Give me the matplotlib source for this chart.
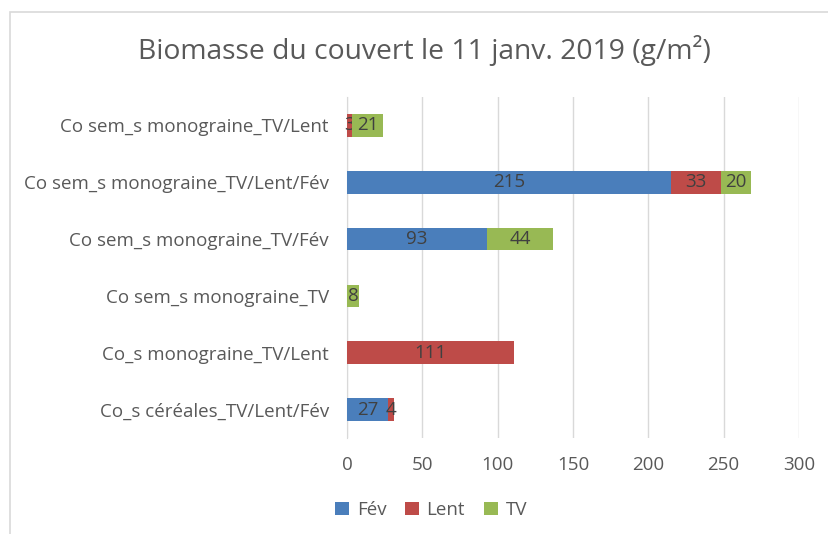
import matplotlib.pyplot as plt
from matplotlib.patches import Rectangle

plt.rcParams['font.family'] = ['Open Sans', 'DejaVu Sans']

categories = ["Co_s céréales_TV/Lent/Fév", "Co_s monograine_TV/Lent",
              "Co sem_s monograine_TV", "Co sem_s monograine_TV/Fév",
              "Co sem_s monograine_TV/Lent/Fév", "Co sem_s monograine_TV/Lent"]
fev = [27, 0, 0, 93, 215, 0]
lent = [4, 111, 0, 0, 33, 3]
tv = [0, 0, 8, 44, 20, 21]

colors = {'Fév': '#4A7EBB', 'Lent': '#BE4B48', 'TV': '#98B954'}
text_gray = '#595959'

fig = plt.figure(figsize=(8.29, 5.34), dpi=100)
ax = fig.add_axes([347 / 829, 1 - 438 / 534, 452 / 829, 341 / 534])

y = range(len(categories))
left = [0] * len(categories)
for name, vals in [('Fév', fev), ('Lent', lent), ('TV', tv)]:
    bars = ax.barh(y, vals, left=left, height=0.4, color=colors[name], label=name, zorder=3)
    labels = [str(v) if v else '' for v in vals]
    ax.bar_label(bars, labels=labels, label_type='center', color='#404040', fontsize=13.5)
    left = [a + b for a, b in zip(left, vals)]

ax.set_xlim(0, 300)
ax.set_ylim(-0.5, len(categories) - 0.5)
ax.set_xticks(range(0, 301, 50))
ax.set_yticks(list(y))
ax.set_yticklabels(categories)
ax.grid(axis='x', color='#D9D9D9', linewidth=1, zorder=0)
for s in ['top', 'right', 'bottom']:
    ax.spines[s].set_visible(False)
ax.spines['left'].set_color('#D9D9D9')
ax.tick_params(axis='both', length=0, labelsize=13.5, labelcolor=text_gray)
ax.tick_params(axis='y', pad=13)
ax.tick_params(axis='x', pad=13)

fig.text(0.512, 1 - 50 / 534, "Biomasse du couvert le 11 janv. 2019 (g/m²)",
         ha='center', va='center', fontsize=20.3, color=text_gray)

fig.legend(loc='center', bbox_to_anchor=(431 / 829, 1 - 510 / 534),
           ncol=3, frameon=False, fontsize=13.5, labelcolor=text_gray,
           handlelength=0.75, handleheight=0.75, handletextpad=0.4, columnspacing=1.0)

fig.patches.append(Rectangle((10 / 829, -0.1), 1.2, (1 - 12 / 534) + 0.1, transform=fig.transFigure,
                             fill=False, edgecolor='#D9D9D9', linewidth=1.2))

fig.savefig('out.png', dpi=100)
